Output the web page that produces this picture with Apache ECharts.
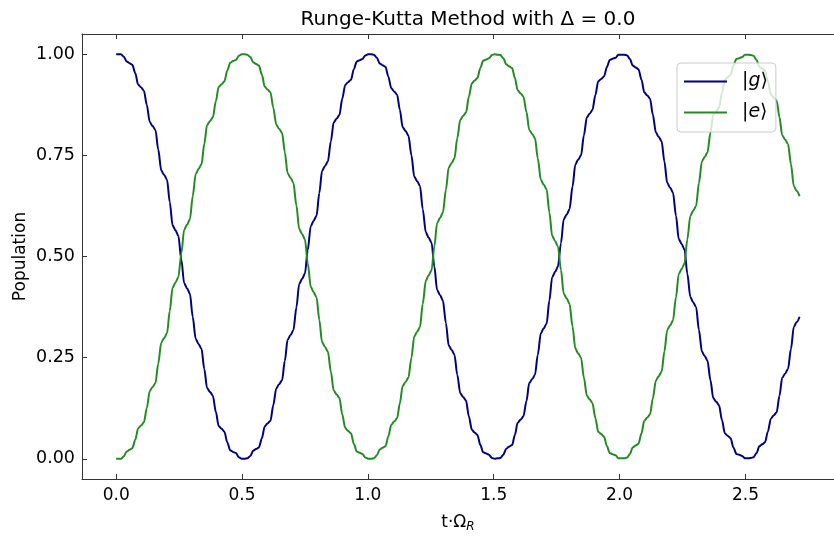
<!DOCTYPE html>
<html>
<head>
<meta charset="utf-8">
<script src="https://cdn.jsdelivr.net/npm/echarts/dist/echarts.min.js"></script>
<style>
html,body{margin:0;padding:0;background:#fff;}
#chart{width:834px;height:538px;}
</style>
</head>
<body>
<div id="chart"></div>
<script>
// Sample times (t·Ω_R)
const tVals = [0,
0.007,0.019,0.030,0.042,0.053,0.064,0.076,0.087,
0.099,0.110,0.122,0.133,0.144,0.156,0.167,0.179,
0.190,0.202,0.213,0.224,0.236,0.247,0.259,0.270,
0.282,0.293,0.304,0.316,0.327,0.339,0.350,0.361,
0.373,0.384,0.396,0.407,0.419,0.430,0.441,0.453,
0.464,0.476,0.487,0.499,0.510,0.521,0.533,0.544,
0.556,0.567,0.579,0.590,0.601,0.613,0.624,0.636,
0.647,0.659,0.670,0.681,0.693,0.704,0.716,0.727,
0.739,0.750,0.761,0.773,0.784,0.796,0.807,0.818,
0.830,0.841,0.853,0.864,0.876,0.887,0.898,0.910,
0.921,0.933,0.944,0.956,0.967,0.978,0.990,1.001,
1.013,1.024,1.036,1.047,1.058,1.070,1.081,1.093,
1.104,1.116,1.127,1.138,1.150,1.161,1.173,1.184,
1.196,1.207,1.218,1.230,1.241,1.253,1.264,1.275,
1.287,1.298,1.310,1.321,1.333,1.344,1.355,1.367,
1.378,1.390,1.401,1.413,1.424,1.435,1.447,1.458,
1.470,1.481,1.493,1.504,1.515,1.527,1.538,1.550,
1.561,1.573,1.584,1.595,1.607,1.618,1.630,1.641,
1.653,1.664,1.675,1.687,1.698,1.710,1.721,1.732,
1.744,1.755,1.767,1.778,1.790,1.801,1.813,1.824,
1.835,1.847,1.858,1.870,1.881,1.892,1.904,1.915,
1.927,1.938,1.950,1.961,1.972,1.984,1.995,2.007,
2.018,2.030,2.041,2.052,2.064,2.075,2.087,2.098,
2.110,2.121,2.132,2.144,2.155,2.167,2.178,2.189,
2.201,2.212,2.224,2.235,2.247,2.258,2.269,2.281,
2.292,2.304,2.315,2.327,2.338,2.349,2.361,2.372,
2.384,2.395,2.407,2.418,2.429,2.441,2.452,2.464,
2.475,2.487,2.498,2.509,2.521,2.532,2.544,2.555,
2.567,2.578,2.589,2.601,2.612,2.624,2.635,2.646,
2.658,2.669,2.681,2.692,2.704,2.715];

// |g> population
const gVals = [1.000,
1.000,1.000,0.994,0.982,0.978,0.974,0.953,0.925,
0.918,0.910,0.874,0.833,0.823,0.813,0.765,0.713,
0.702,0.690,0.634,0.577,0.564,0.551,0.492,0.434,
0.421,0.408,0.351,0.296,0.284,0.272,0.222,0.175,
0.165,0.156,0.116,0.081,0.074,0.067,0.041,0.021,
0.017,0.014,0.004,0.000,0.000,0.001,0.007,0.020,
0.024,0.028,0.051,0.080,0.087,0.094,0.132,0.174,
0.184,0.194,0.242,0.294,0.306,0.318,0.374,0.432,
0.445,0.458,0.516,0.575,0.588,0.601,0.657,0.712,
0.724,0.735,0.785,0.831,0.841,0.850,0.890,0.924,
0.931,0.937,0.963,0.982,0.985,0.988,0.997,1.000,
1.000,0.999,0.991,0.977,0.973,0.969,0.945,0.916,
0.908,0.900,0.863,0.820,0.810,0.799,0.750,0.698,
0.686,0.674,0.617,0.560,0.547,0.534,0.475,0.417,
0.404,0.391,0.335,0.280,0.269,0.257,0.208,0.162,
0.153,0.144,0.105,0.072,0.065,0.059,0.034,0.016,
0.013,0.010,0.002,0.000,0.001,0.002,0.010,0.025,
0.030,0.034,0.059,0.089,0.097,0.105,0.143,0.187,
0.197,0.208,0.257,0.310,0.322,0.334,0.391,0.449,
0.462,0.475,0.533,0.592,0.604,0.617,0.673,0.727,
0.739,0.750,0.799,0.844,0.853,0.862,0.900,0.933,
0.939,0.945,0.969,0.986,0.989,0.991,0.999,0.999,
0.999,0.997,0.988,0.972,0.967,0.963,0.937,0.906,
0.898,0.890,0.851,0.807,0.796,0.785,0.735,0.682,
0.670,0.658,0.601,0.543,0.530,0.517,0.458,0.400,
0.387,0.375,0.319,0.265,0.254,0.243,0.194,0.150,
0.141,0.132,0.095,0.063,0.057,0.051,0.028,0.012,
0.010,0.007,0.001,0.001,0.002,0.004,0.014,0.031,
0.036,0.041,0.067,0.099,0.107,0.115,0.155,0.200,
0.211,0.222,0.272,0.326,0.338,0.351];

// |e> population
const eVals = [0.000,
0.000,0.000,0.006,0.018,0.022,0.026,0.047,0.075,
0.082,0.090,0.126,0.167,0.177,0.187,0.235,0.287,
0.298,0.310,0.366,0.423,0.436,0.449,0.508,0.566,
0.579,0.592,0.649,0.704,0.716,0.728,0.778,0.825,
0.835,0.844,0.884,0.919,0.926,0.933,0.959,0.979,
0.983,0.986,0.996,1.000,1.000,0.999,0.993,0.980,
0.976,0.972,0.949,0.920,0.913,0.906,0.868,0.826,
0.816,0.806,0.758,0.706,0.694,0.682,0.626,0.568,
0.555,0.542,0.484,0.425,0.412,0.399,0.343,0.288,
0.276,0.265,0.215,0.169,0.159,0.150,0.110,0.076,
0.069,0.063,0.037,0.018,0.015,0.012,0.003,0.000,
0.000,0.001,0.009,0.023,0.027,0.031,0.055,0.084,
0.092,0.100,0.137,0.180,0.190,0.201,0.250,0.302,
0.314,0.326,0.383,0.440,0.453,0.466,0.525,0.583,
0.596,0.609,0.665,0.720,0.731,0.743,0.792,0.838,
0.847,0.856,0.895,0.928,0.935,0.941,0.966,0.984,
0.987,0.990,0.998,1.000,0.999,0.998,0.990,0.975,
0.970,0.966,0.941,0.911,0.903,0.895,0.857,0.813,
0.803,0.792,0.743,0.690,0.678,0.666,0.609,0.551,
0.538,0.525,0.467,0.408,0.396,0.383,0.327,0.273,
0.261,0.250,0.201,0.156,0.147,0.138,0.100,0.067,
0.061,0.055,0.031,0.014,0.011,0.009,0.001,0.001,
0.001,0.003,0.012,0.028,0.033,0.037,0.063,0.094,
0.102,0.110,0.149,0.193,0.204,0.215,0.265,0.318,
0.330,0.342,0.399,0.457,0.470,0.483,0.542,0.600,
0.613,0.625,0.681,0.735,0.746,0.757,0.806,0.850,
0.859,0.868,0.905,0.937,0.943,0.949,0.972,0.988,
0.990,0.993,0.999,0.999,0.998,0.996,0.986,0.969,
0.964,0.959,0.933,0.901,0.893,0.885,0.845,0.800,
0.789,0.778,0.728,0.674,0.662,0.649];

const xTicks = [0, 0.5, 1.0, 1.5, 2.0, 2.5];
const yTicks = [0, 0.25, 0.5, 0.75, 1.0];
const seriesNames = ['|g⟩', '|e⟩'];
const seriesColors = ['#000080', '#228b22'];

const FONT = 'DejaVu Sans';
const gData = tVals.map((t, i) => [t, gVals[i]]);
const eData = tVals.map((t, i) => [t, eVals[i]]);

const chart = echarts.init(document.getElementById('chart'), null, {renderer: 'canvas'});
const axisColor = '#333';

const option = {
  animation: false,
  backgroundColor: '#ffffff',
  title: {
    text: 'Runge-Kutta Method with Δ = 0.0',
    left: 463, top: 5, textAlign: 'center',
    textStyle: {fontFamily: FONT, fontSize: 20, fontWeight: 'normal', color: '#000'}
  },
  grid: {left: 82, right: -10, top: 34, bottom: 49.5, containLabel: false},
  legend: {
    orient: 'vertical', left: 677, top: 63,
    icon: 'rect', itemWidth: 43, itemHeight: 2, itemGap: 10,
    padding: [8, 8, 9, 7],
    backgroundColor: 'rgba(255,255,255,0.8)',
    borderColor: '#cccccc', borderWidth: 1, borderRadius: 4,
    data: seriesNames,
    formatter: n => '{u||}{i|' + n.charAt(1) + '}{u|⟩}',
    textStyle: {
      fontFamily: FONT, fontSize: 19, color: '#000', padding: [0, 0, 0, 10], lineHeight: 21,
      rich: {
        u: {fontFamily: FONT, fontSize: 19, color: '#000', lineHeight: 21},
        i: {fontFamily: FONT, fontSize: 19, fontStyle: 'italic', color: '#000', lineHeight: 21}
      }
    }
  },
  xAxis: [{
    type: 'value', position: 'bottom', min: -0.1358, max: 2.8518,
    name: '{a|t·Ω}{s|R}', nameLocation: 'middle', nameGap: 34,
    nameTextStyle: {
      fontFamily: FONT, fontSize: 17, color: '#000',
      rich: {
        a: {fontFamily: FONT, fontSize: 17, color: '#000'},
        s: {fontFamily: FONT, fontSize: 12, fontStyle: 'italic', color: '#000', padding: [8, 0, 0, 0]}
      }
    },
    axisLine: {show: true, onZero: false, lineStyle: {color: axisColor, width: 1}},
    axisTick: {show: true, inside: true, length: 5, customValues: xTicks, lineStyle: {color: axisColor}},
    axisLabel: {show: true, margin: 8, customValues: xTicks, fontFamily: FONT, fontSize: 17, color: '#000',
      formatter: v => v.toFixed(1)},
    splitLine: {show: false}
  }, {
    type: 'value', position: 'top', min: -0.1358, max: 2.8518,
    axisLine: {show: true, onZero: false, lineStyle: {color: axisColor, width: 1}},
    axisTick: {show: true, inside: true, length: 5, customValues: xTicks, lineStyle: {color: axisColor}},
    axisLabel: {show: false},
    splitLine: {show: false}
  }],
  yAxis: {
    type: 'value', min: -0.05, max: 1.05,
    name: 'Population', nameLocation: 'middle', nameGap: 53, nameRotate: 90,
    nameMoveOverlap: false,
    nameTextStyle: {fontFamily: FONT, fontSize: 17, color: '#000'},
    axisLine: {show: true, onZero: false, lineStyle: {color: axisColor, width: 1}},
    axisTick: {show: true, inside: true, length: 5, customValues: yTicks, lineStyle: {color: axisColor}},
    axisLabel: {show: true, margin: 7, customValues: yTicks, fontFamily: FONT, fontSize: 17.5, color: '#000',
      formatter: v => v.toFixed(2)},
    splitLine: {show: false}
  },
  series: [{
    name: seriesNames[0], type: 'line', data: gData, xAxisIndex: 0,
    showSymbol: false, smooth: 0.3, smoothMonotone: 'x',
    lineStyle: {color: seriesColors[0], width: 2}, itemStyle: {color: seriesColors[0]}
  }, {
    name: seriesNames[1], type: 'line', data: eData, xAxisIndex: 0,
    showSymbol: false, smooth: 0.3, smoothMonotone: 'x',
    lineStyle: {color: seriesColors[1], width: 2}, itemStyle: {color: seriesColors[1]}
  }]
};
chart.setOption(option);
</script>
</body>
</html>
